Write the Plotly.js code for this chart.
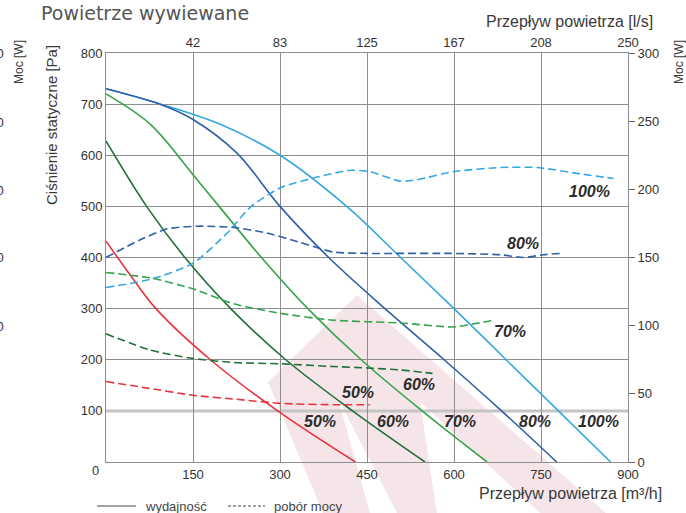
<!DOCTYPE html>
<html>
<head>
<meta charset="utf-8">
<script src="https://cdn.plot.ly/plotly-3.0.1.min.js"></script>
<style>html,body{margin:0;padding:0;background:#fff;}#chart{width:686px;height:513px;}</style>
</head>
<body>
<div id="chart"></div>
<script>
// ---- Data: static pressure [Pa] vs air flow [m3/h] (solid, "wydajność")
const flow100 = [0, 100, 200, 300, 415, 508, 600, 690, 780, 870];
const pres100 = [730, 698, 659, 600, 500, 400, 300, 200, 100, 0];
const flow80 = [0, 100, 150, 225, 300, 384, 481, 583, 682, 777];
const pres80 = [730, 697, 670, 605, 500, 400, 300, 200, 100, 0];
const flow70 = [0, 77, 150, 195, 268, 348, 440, 545, 657];
const pres70 = [720, 660, 562, 500, 400, 300, 200, 100, 0];
const flow60 = [0, 70, 136, 215, 310, 425, 550];
const pres60 = [628, 500, 400, 300, 200, 100, 0];
const flow50 = [0, 48, 86, 180, 296, 430];
const pres50 = [432, 356, 300, 200, 100, 0];

// ---- Data: power [W] vs air flow [m3/h] (dashed, "pobór mocy")
const pFlow100 = [0, 77, 151, 209, 249, 300, 364, 421, 455, 507, 536, 599, 680, 743, 823, 875];
const pow100 = [128, 134, 146, 168, 187, 201, 209, 214, 213, 206, 207, 213, 216, 216, 211, 208];
const pFlow80 = [0, 59, 105, 163, 220, 277, 335, 392, 450, 507, 593, 680, 720, 754, 783];
const pow80 = [150, 163, 171, 173, 172, 168, 161, 154, 153, 153, 153, 152, 150, 152, 153];
const pFlow70 = [0, 77, 150, 220, 301, 392, 507, 599, 630, 670];
const pow70 = [139, 135, 127, 116, 109, 104, 102, 99, 101, 104];
const pFlow60 = [0, 77, 149, 220, 301, 392, 450, 507, 563];
const pow60 = [94, 82, 76, 73, 72, 70, 69, 67.5, 65];
const pFlow50 = [0, 75, 149, 225, 301, 392, 455];
const pow50 = [59, 54, 49, 46, 43, 42, 42];

// ---- Tick labels
const flowTicks = [150, 300, 450, 600, 750, 900];
const lsTickText = ['42', '83', '125', '167', '208', '250'];
const presTicks = [100, 200, 300, 400, 500, 600, 700, 800];
const presGrid = [200, 300, 400, 500, 600, 700];
const powTicks = [0, 50, 100, 150, 200, 250, 300];
const pct = ['50%', '60%', '70%', '80%', '100%'];

const C100 = '#36a8e0', C80 = '#2f5fa8', C70 = '#35a34c', C60 = '#21703a', C50 = '#e8333d';
const F = 'Liberation Sans, Arial, sans-serif';

function solid(x, y, c) {
  return {x: x, y: y, mode: 'lines', line: {color: c, width: 1.6, shape: 'spline', smoothing: 1},
          xaxis: 'x', yaxis: 'y', hoverinfo: 'skip', showlegend: false};
}
function dashed(x, y, c) {
  return {x: x, y: y, mode: 'lines', line: {color: c, width: 1.6, dash: '8px,4px', shape: 'spline', smoothing: 0.6},
          xaxis: 'x', yaxis: 'y2', hoverinfo: 'skip', showlegend: false};
}

const traces = [
  dashed(pFlow100, pow100, C100), dashed(pFlow80, pow80, C80), dashed(pFlow70, pow70, C70),
  dashed(pFlow60, pow60, C60), dashed(pFlow50, pow50, C50),
  solid(flow100, pres100, C100), solid(flow80, pres80, C80), solid(flow70, pres70, C70),
  solid(flow60, pres60, C60), solid(flow50, pres50, C50),
  {x: [0], y: [null], xaxis: 'x2', yaxis: 'y', mode: 'lines', hoverinfo: 'skip', showlegend: false}
];

// pixel -> paper helpers for decoration
const ML = 106, MT = 53, PW = 522, PH = 409;
const px = v => ((v - ML) / PW).toFixed(4);
const py = v => ((MT + PH - v) / PH).toFixed(4);
const poly = pts => 'M ' + pts.map(p => px(p[0]) + ' ' + py(p[1])).join(' L ') + ' Z';

const pink = '#f6e5e8';
const shapes = [
  {type: 'path', xref: 'paper', yref: 'paper', layer: 'below', fillcolor: pink, line: {width: 0},
   path: poly([[357, 295], [606, 513], [323, 513], [268, 382]])},
  {type: 'path', xref: 'paper', yref: 'paper', layer: 'below', fillcolor: '#ffffff', line: {width: 0},
   path: poly([[338, 398], [397, 513], [370, 513]])},
  {type: 'path', xref: 'paper', yref: 'paper', layer: 'below', fillcolor: '#ffffff', line: {width: 0},
   path: poly([[420, 402], [540, 513], [437, 513]])},
  {type: 'line', xref: 'paper', yref: 'y', x0: 0, x1: 1, y0: 100, y1: 100, layer: 'below',
   line: {color: '#c4c4c4', width: 3}},
  // legend samples
  {type: 'line', xref: 'paper', yref: 'paper', x0: px(97), x1: px(136), y0: py(506), y1: py(506),
   line: {color: '#444', width: 1}},
  {type: 'line', xref: 'paper', yref: 'paper', x0: px(228), x1: px(265), y0: py(506), y1: py(506),
   line: {color: '#444', width: 1, dash: '3px,2px'}}
];

function lab(t, x, y) {
  return {text: '<b><i>' + t + '</i></b>', x: x, y: y, xref: 'x', yref: 'y', showarrow: false,
          xanchor: 'center', yanchor: 'middle',
          font: {family: F, size: 16, color: '#2c2c2c'}};
}
function txt(t, x, y, opts) {
  return Object.assign({text: t, x: px(x), y: py(y), xref: 'paper', yref: 'paper', showarrow: false,
          xanchor: 'center', yanchor: 'middle',
          font: {family: F, size: 13, color: '#444'}}, opts || {});
}
const gf = {family: F, size: 13, color: '#333'};

const annotations = [
  lab(pct[4], 834, 530), lab(pct[3], 719, 428), lab(pct[2], 696, 256), lab(pct[1], 539, 151), lab(pct[0], 434, 135),
  lab(pct[0], 369, 79), lab(pct[1], 495, 79), lab(pct[2], 611, 79), lab(pct[3], 739, 79), lab(pct[4], 849, 79),
  txt('Powietrze wywiewane', 39, 13, {xanchor: 'left', font: {family: 'DejaVu Sans, sans-serif', size: 19, color: '#555'}}),
  txt('Przepływ powietrza [l/s]', 655, 21, {xanchor: 'right', font: {family: F, size: 16, color: '#3a3a3a'}}),
  txt('Przepływ powietrza [m³/h]', 477, 493, {xanchor: 'left', font: {family: F, size: 16, color: '#3a3a3a'}}),
  txt('Ciśnienie statyczne [Pa]', 52, 125, {textangle: -90, font: {family: F, size: 15, color: '#3a3a3a'}}),
  txt('Moc [W]', 19, 62, {textangle: -90, font: {family: F, size: 12, color: '#3a3a3a'}}),
  txt('Moc [W]', 679, 62, {textangle: -90, font: {family: F, size: 12, color: '#3a3a3a'}}),
  txt('0', 96, 470, {font: gf}),
  txt('wydajność', 143, 506, {xanchor: 'left'}),
  txt('pobór mocy', 272, 506, {xanchor: 'left'}),
  txt('300', 6, 53, {xanchor: 'right', font: gf}),
  txt('250', 6, 123, {xanchor: 'right', font: gf}),
  txt('200', 6, 190, {xanchor: 'right', font: gf}),
  txt('150', 6, 258, {xanchor: 'right', font: gf}),
  txt('100', 6, 327, {xanchor: 'right', font: gf})
];

const grid = '#8e8e8e';
const layout = {
  width: 686, height: 513,
  margin: {l: ML, r: 686 - ML - PW, t: MT, b: 513 - MT - PH, pad: 0},
  paper_bgcolor: '#ffffff', plot_bgcolor: 'rgba(0,0,0,0)',
  showlegend: false,
  xaxis: {range: [0, 900], tickvals: flowTicks, showgrid: true, gridcolor: grid, gridwidth: 1,
          showline: true, linecolor: grid, linewidth: 1, zeroline: false, ticks: '', tickfont: gf, fixedrange: true},
  xaxis2: {overlaying: 'x', side: 'top', range: [0, 900], tickvals: flowTicks, ticktext: lsTickText,
           showgrid: false, showline: true, linecolor: grid, linewidth: 1, zeroline: false, ticks: '', tickfont: gf},
  yaxis: {range: [0, 800], tickvals: presTicks, showgrid: false,
          minor: {tickvals: presGrid, showgrid: true, gridcolor: grid, gridwidth: 1, ticks: ''},
          showline: true, linecolor: grid, linewidth: 1, zeroline: false, ticks: '', tickfont: gf},
  yaxis2: {overlaying: 'y', side: 'right', range: [0, 300], tickvals: powTicks, showgrid: false,
           showline: true, linecolor: grid, linewidth: 1, zeroline: false, ticks: 'outside', ticklen: 6,
           tickcolor: '#666', tickfont: gf},
  shapes: shapes,
  annotations: annotations
};

Plotly.newPlot('chart', traces, layout, {staticPlot: true, displayModeBar: false});
</script>
</body>
</html>
